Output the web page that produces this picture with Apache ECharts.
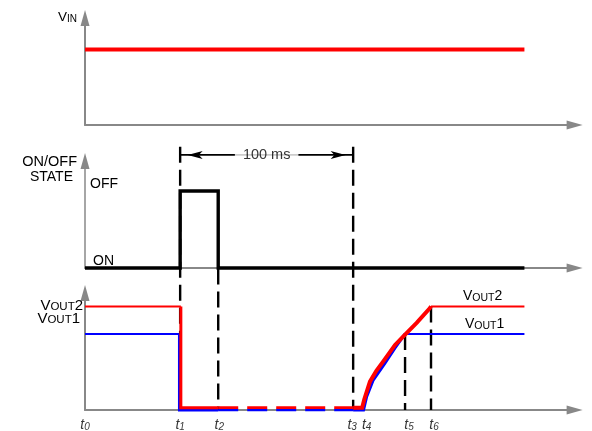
<!DOCTYPE html>
<html><head><meta charset="utf-8">
<script src="https://cdn.jsdelivr.net/npm/echarts@6/dist/echarts.min.js"></script>
<style>html,body{margin:0;padding:0;background:#fff}#c{width:592px;height:431px}</style>
</head><body><div id="c"></div>
<script>
// ---------------- data (time in ms, t1 -> t3 = 100 ms) ----------------
const timeNames  = ['t0', 't1', 't2', 't3', 't4', 't5', 't6'];
const timeValues = [0, 55, 77, 155, 160.5, 185, 200];
const timeEnd = 254;
const timeAxisMax = 283;

// VIN panel
const vinT = [0, 254];
const vinV = [7.06, 7.06];

// ON/OFF state panel (0 = ON, 1 = OFF)
const stateT = [0, 55, 55, 77, 77, 254];
const stateV = [0, 0, 1, 1, 0, 0];

// VOUT panel
const vout2HighBefore = [[0, 8.85], [55.4, 8.85]];
const vout2Drop       = [[55.4, 8.85], [55.4, 0.2], [77, 0.2]];
const vout2Off        = [[77, 0.2], [155, 0.2]];
const vout2Ramp       = [[155, 0.2], [160.2, 0.2], [161.4, 0.9], [164.7, 2.42], [168.4, 3.35], [172.3, 4.13],
                         [179.2, 5.56], [185, 6.45], [191.7, 7.44], [199.4, 8.72], [200, 8.85]];
const vout2HighAfter  = [[200, 8.85], [254, 8.85]];

const vout1HighBefore = [[0, 6.5], [54.6, 6.5]];
const vout1Drop       = [[54.6, 6.5], [54.6, 0], [77, 0]];
const vout1Off        = [[77, 0], [155, 0]];
const vout1Ramp       = [[155, 0], [161, 0], [162.8, 1.14], [166.6, 2.56], [173.4, 4.0],
                         [179.2, 5.3], [185, 6.5]];
const vout1HighAfter  = [[185, 6.5], [254, 6.5]];

// dashed time markers (drawn in VOUT-panel units, extending upward)
const markerTimes = [55, 77, 155, 185, 200];
const markerTops  = [22.5, 12.1, 22.5, 6.5, 8.85];

// 100 ms bracket
const bracketFrom = 55, bracketTo = 155, bracketLevel = 21.8, bracketText = '100 ms';

// ---------------- styles ----------------
const FONT = 'Liberation Sans, Arial, Helvetica, sans-serif';
const GRAY = '#888888', RED = '#ff0000', BLUE = '#0000ff', BLACK = '#000000';
const timeLabelNudge = [0, 0, 1, -1, 4, 4, 3];

const chart = echarts.init(document.getElementById('c'), null, {renderer: 'canvas'});

const grids = [
  {left: 85, top: 18,  width: 489.6, height: 107},
  {left: 85, top: 161, width: 489.6, height: 107},
  {left: 85, top: 293, width: 489.6, height: 117}
];
const yMaxes = [10, 1.39, 10];
const yWidths = [2, 1.5, 2];

function axisLine(w) {
  return {show: true, onZero: true, symbol: ['none', 'triangle'], symbolSize: [9, 16],
          lineStyle: {color: GRAY, width: w}};
}

const xAxes = grids.map((g, i) => ({
  type: 'value', gridIndex: i, min: 0, max: timeAxisMax,
  axisLine: axisLine(2), axisTick: {show: false}, axisLabel: {show: false}, splitLine: {show: false}
}));
const yAxes = grids.map((g, i) => ({
  type: 'value', gridIndex: i, min: 0, max: yMaxes[i],
  axisLine: axisLine(yWidths[i]), axisTick: {show: false}, axisLabel: {show: false}, splitLine: {show: false}
}));

function line(grid, data, color, width, type) {
  return {type: 'line', xAxisIndex: grid, yAxisIndex: grid, data: data, symbol: 'none',
          showSymbol: false, clip: false, silent: true,
          lineStyle: {color: color, width: width, type: type || 'solid', cap: 'butt', join: 'miter'}};
}

const series = [];
// VIN
series.push(line(0, vinT.map((t, i) => [t, vinV[i]]), RED, 4));
// ON/OFF state
series.push(line(1, stateT.map((t, i) => [t, stateV[i]]), BLACK, 3.4));
// dashed markers
markerTimes.forEach((t, i) => {
  series.push(line(2, [[t, markerTops[i]], [t, 0]], BLACK, 2.4, [16, 7]));
});
// bracket
series.push({
  type: 'line', xAxisIndex: 2, yAxisIndex: 2, clip: false, silent: true,
  data: [
    {value: [bracketFrom, bracketLevel], symbol: 'arrow', symbolSize: [6, 15], symbolRotate: 90, symbolOffset: [7.5, 0]},
    {value: [bracketTo, bracketLevel], symbol: 'arrow', symbolSize: [6, 15], symbolRotate: -90, symbolOffset: [-7.5, 0]}
  ],
  showSymbol: true, itemStyle: {color: BLACK},
  lineStyle: {color: BLACK, width: 1.8}
});
series.push({
  type: 'scatter', xAxisIndex: 2, yAxisIndex: 2, clip: false, silent: true, z: 5,
  symbolSize: 1, itemStyle: {color: 'rgba(0,0,0,0)'},
  data: [[(bracketFrom + bracketTo) / 2, bracketLevel]],
  label: {show: true, position: 'inside', formatter: bracketText, color: BLACK,
          fontFamily: FONT, fontSize: 14.5, backgroundColor: '#fff', padding: [1, 8]}
});
// VOUT1 (blue, below)
series.push(line(2, vout1HighBefore, BLUE, 2));
series.push(line(2, vout1Drop, BLUE, 3));
series.push(line(2, vout1Off, BLUE, 2.6, [20, 9]));
series.push(line(2, vout1Ramp, BLUE, 3));
series.push(line(2, vout1HighAfter, BLUE, 2));
// VOUT2 (red, above)
series.push(line(2, vout2HighBefore, RED, 2));
series.push(line(2, vout2Drop, RED, 3));
series.push(line(2, vout2Off, RED, 2.6, [20, 9]));
series.push(line(2, vout2Ramp, RED, 4));
series.push(line(2, vout2HighAfter, RED, 2));
// time labels
series.push({
  type: 'scatter', xAxisIndex: 2, yAxisIndex: 2, clip: false, silent: true,
  symbolSize: 1, itemStyle: {color: 'rgba(0,0,0,0)'},
  data: timeNames.map((n, i) => ({value: [timeValues[i], 0], name: n, label: {offset: [timeLabelNudge[i], 0]}})),
  label: {
    show: true, position: 'bottom', distance: 7,
    formatter: p => '{t|t}{s|' + p.name.slice(1) + '}',
    rich: {
      t: {fontFamily: FONT, fontStyle: 'italic', fontSize: 14, color: BLACK, lineHeight: 15, verticalAlign: 'bottom'},
      s: {fontFamily: FONT, fontStyle: 'italic', fontSize: 10, color: BLACK, lineHeight: 10, verticalAlign: 'bottom'}
    }
  }
});

function richV(big, small) {
  return {
    v: {fontFamily: FONT, fontSize: big, fill: BLACK, lineHeight: big + 1, verticalAlign: 'bottom'},
    s: {fontFamily: FONT, fontSize: small, fill: BLACK, lineHeight: small + 2.5, verticalAlign: 'bottom'}
  };
}
function txt(text, x, y, align, extra) {
  return {type: 'text', silent: true, z: 10,
          style: Object.assign({text: text, x: x, y: y, textAlign: align, textVerticalAlign: 'middle',
                                fontFamily: FONT, fontSize: 14, fill: BLACK}, extra || {})};
}
const graphics = [
  txt('{v|V}{s|IN}', 77, 17, 'right', {rich: richV(13.5, 10)}),
  txt('ON/OFF', 77, 162, 'right', {fontSize: 14.5}),
  txt('STATE', 73, 177, 'right'),
  txt('OFF', 90, 184, 'left'),
  txt('ON', 93, 261, 'left'),
  txt('{v|V}{s|OUT}{v|2}', 83, 305, 'right', {rich: richV(15, 11.5)}),
  txt('{v|V}{s|OUT}{v|1}', 80, 318, 'right', {rich: richV(15, 11.5)}),
  txt('{v|V}{s|OUT}{v|2}', 463, 296, 'left', {rich: richV(14, 10.5)}),
  txt('{v|V}{s|OUT}{v|1}', 465, 324, 'left', {rich: richV(14, 10.5)})
];

chart.setOption({
  animation: false,
  backgroundColor: '#fff',
  grid: grids,
  xAxis: xAxes,
  yAxis: yAxes,
  series: series,
  graphic: graphics
});
</script></body></html>
